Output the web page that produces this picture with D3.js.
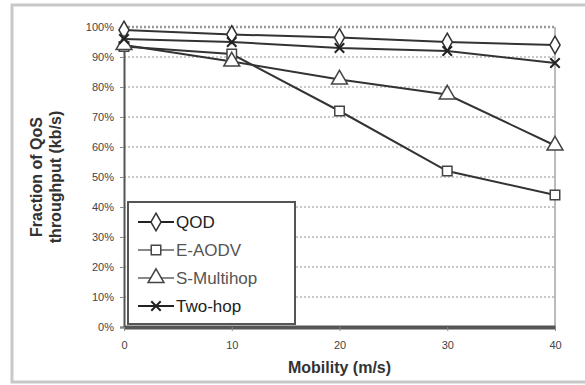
<!DOCTYPE html>
<html>
<head>
<meta charset="utf-8">
<script src="https://cdn.jsdelivr.net/npm/d3@7"></script>
<style>
  body { margin: 0; background: #fff; }
  svg { display: block; font-family: Arial, "Liberation Sans", sans-serif; }
</style>
</head>
<body>
<div id="chart"></div>
<script>
// data
const mobility = [0, 10, 20, 30, 40];
const qod = [99, 97.5, 96.5, 95, 94];
const eAodv = [93.5, 91, 72, 52, 44];
const sMultihop = [94, 88.5, 82.5, 77.5, 60.5];
const twoHop = [96, 95, 93, 92, 88];
const yTicks = [0, 10, 20, 30, 40, 50, 60, 70, 80, 90, 100];
const seriesNames = ["QOD", "E-AODV", "S-Multihop", "Two-hop"];

const width = 585, height = 385;
const margin = { top: 27, right: 30, bottom: 58, left: 124 };
const innerW = width - margin.left - margin.right;
const innerH = height - margin.top - margin.bottom;

const svg = d3.select("#chart")
  .append("svg")
  .attr("width", width)
  .attr("height", height);

// outer frame
svg.append("path")
  .attr("d", "M585,5 H12 V382 H585")
  .attr("fill", "none")
  .attr("stroke", "#c8c8c8")
  .attr("stroke-width", 3);

const g = svg.append("g")
  .attr("transform", "translate(" + margin.left + "," + margin.top + ")");

const x = d3.scaleLinear().domain([0, 40]).range([0, innerW]);
const y = d3.scaleLinear().domain([0, 100]).range([innerH, 0]);

// gridlines
g.append("g")
  .selectAll("line")
  .data(yTicks.filter(d => d > 0))
  .enter()
  .append("line")
  .attr("x1", 0)
  .attr("x2", innerW)
  .attr("y1", d => y(d))
  .attr("y2", d => y(d))
  .attr("stroke", d => d === 100 ? "#999" : "#b5b5b5")
  .attr("stroke-width", d => d === 100 ? 2.5 : 1.5)
  .attr("stroke-dasharray", "2,2");

// right border of plot area
g.append("line")
  .attr("x1", innerW).attr("x2", innerW)
  .attr("y1", 0).attr("y2", innerH)
  .attr("stroke", "#bbb")
  .attr("stroke-width", 2);

// axes
const yAxis = g.append("g")
  .call(d3.axisLeft(y).tickValues(yTicks).tickSize(4).tickFormat(d => d + "%"));
yAxis.select(".domain").attr("stroke", "#555").attr("stroke-width", 2);
yAxis.selectAll(".tick line").attr("stroke", "#888");
yAxis.selectAll("text")
  .attr("font-size", 11)
  .attr("fill", "#444")
  .attr("x", -10);

const xAxis = g.append("g")
  .attr("transform", "translate(0," + innerH + ")")
  .call(d3.axisBottom(x).tickValues(mobility).tickSize(4).tickSizeOuter(0));
xAxis.select(".domain").attr("stroke", "#555").attr("stroke-width", 4);
xAxis.selectAll(".tick line").attr("stroke", "#888");
xAxis.selectAll("text")
  .attr("font-size", 11)
  .attr("fill", "#444")
  .attr("y", 14);

// axis titles
svg.append("text")
  .attr("x", margin.left + innerW / 2)
  .attr("y", 373)
  .attr("text-anchor", "middle")
  .attr("font-size", 16)
  .attr("font-weight", "bold")
  .attr("fill", "#333")
  .text("Mobility (m/s)");

const yTitle = svg.append("text")
  .attr("transform", "translate(42,177) rotate(-90)")
  .attr("text-anchor", "middle")
  .attr("font-size", 16)
  .attr("font-weight", "bold")
  .attr("fill", "#333");
yTitle.append("tspan").attr("x", 0).attr("dy", 0).text("Fraction of QoS");
yTitle.append("tspan").attr("x", 0).attr("dy", 19).text("throughput (kb/s)");

// series
const series = [
  { name: seriesNames[0], values: qod, marker: "diamond" },
  { name: seriesNames[1], values: eAodv, marker: "square" },
  { name: seriesNames[2], values: sMultihop, marker: "triangle" },
  { name: seriesNames[3], values: twoHop, marker: "star" }
];

const line = d3.line()
  .x((d, i) => x(mobility[i]))
  .y(d => y(d));

function drawMarker(sel, type, cx, cy) {
  if (type === "diamond") {
    sel.append("path")
      .attr("d", d3.symbol().type(d3.symbolDiamond).size(90)())
      .attr("transform", "translate(" + cx + "," + cy + ")")
      .attr("fill", "#fff").attr("stroke", "#333").attr("stroke-width", 1.5);
  } else if (type === "square") {
    sel.append("path")
      .attr("d", d3.symbol().type(d3.symbolSquare).size(90)())
      .attr("transform", "translate(" + cx + "," + cy + ")")
      .attr("fill", "#fff").attr("stroke", "#444").attr("stroke-width", 1.5);
  } else if (type === "triangle") {
    sel.append("path")
      .attr("d", d3.symbol().type(d3.symbolTriangle).size(110)())
      .attr("transform", "translate(" + cx + "," + cy + ")")
      .attr("fill", "#fff").attr("stroke", "#444").attr("stroke-width", 1.5);
  } else {
    sel.append("path")
      .attr("d", d3.symbol().type(d3.symbolTimes).size(60)())
      .attr("transform", "translate(" + cx + "," + cy + ")")
      .attr("fill", "none").attr("stroke", "#222").attr("stroke-width", 2);
  }
}

series.forEach(s => {
  g.append("path")
    .datum(s.values)
    .attr("d", line)
    .attr("fill", "none")
    .attr("stroke", "#333")
    .attr("stroke-width", 2);
});
series.forEach(s => {
  const mg = g.append("g");
  s.values.forEach((v, i) => drawMarker(mg, s.marker, x(mobility[i]), y(v)));
});

// legend
const legend = svg.append("g").attr("transform", "translate(128,202)");
legend.append("rect")
  .attr("width", 167)
  .attr("height", 122)
  .attr("fill", "#fff")
  .attr("stroke", "#555")
  .attr("stroke-width", 2);

series.forEach((s, i) => {
  const ly = 20 + i * 28;
  const lg = legend.append("g");
  lg.append("line")
    .attr("x1", 10).attr("x2", 46)
    .attr("y1", ly).attr("y2", ly)
    .attr("stroke", i === 1 || i === 2 ? "#888" : "#222")
    .attr("stroke-width", 2);
  drawMarker(lg, s.marker, 28, ly);
  lg.append("text")
    .attr("x", 48)
    .attr("y", ly + 6)
    .attr("font-size", 17)
    .attr("fill", i === 1 || i === 2 ? "#555" : "#222")
    .text(s.name);
});
</script>
</body>
</html>
